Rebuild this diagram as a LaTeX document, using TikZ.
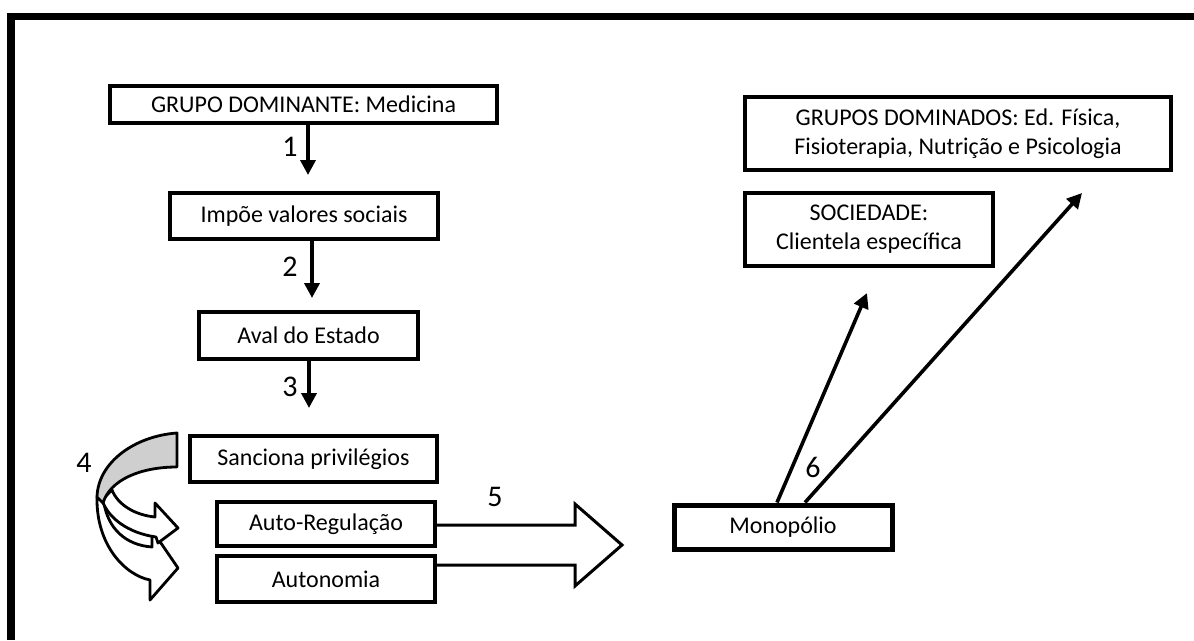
\documentclass[tikz,border=0pt]{standalone}
\usepackage{fontspec}
\setmainfont{Carlito}
\usetikzlibrary{arrows.meta}
\begin{document}
\begin{tikzpicture}[x=1pt,y=-1pt,
  box/.style={draw, line width=4.2pt, inner sep=0pt, align=center,
    font=\fontsize{24}{29}\selectfont},
  num/.style={font=\fontsize{30}{32}\selectfont, inner sep=0pt},
  arr/.style={line width=3.6pt, -{Triangle[length=15pt,width=15pt]}},
  bigarrow/.style={line width=3pt, line join=miter},
  curvarr/.style={line width=2.8pt, line join=round, fill=white},
]
\useasboundingbox (0,0) rectangle (1194,640);
% outer frame (cut at right and bottom)
\draw[line width=7.5pt] (11,640) -- (11,16.5) -- (1194,16.5);

% boxes
\node[box, minimum width=387pt, minimum height=37pt] (dom) at (303.5,104.5) {GRUPO DOMINANTE: Medicina};
\node[box, minimum width=268pt, minimum height=46pt] (imp) at (304,216) {Impõe valores sociais};
\node[box, minimum width=219pt, minimum height=47pt] (aval) at (308.5,335.5) {Aval do Estado};
\node[box, minimum width=247pt, minimum height=46pt] (sanc) at (313.5,459) {Sanciona privilégios};
\node[box, minimum width=218pt, minimum height=44pt] (auto) at (326,524) {Auto-Regulação};
\node[box, minimum width=218pt, minimum height=46pt] (auton) at (326,579) {Autonomia};
\node[box, minimum width=218pt, minimum height=44pt, line width=5pt] (mono) at (783,527) {Monopólio};
\node[box, minimum width=248pt, minimum height=73pt] (soc) at (869,229.5) {SOCIEDADE:\\Clientela específica};
\node[box, minimum width=426pt, minimum height=73pt] (domd) at (958,133.5) {GRUPOS DOMINADOS: Ed. Física,\\Fisioterapia, Nutrição e Psicologia};

% free arrow ends
\coordinate (t1) at (308,175);
\coordinate (t2) at (312,298);
\coordinate (t3) at (309,408);
\coordinate (t6a) at (867,293);
\coordinate (t6b) at (1082,193);

\draw[arr] (dom.south -| t1) -- (t1);
\draw[arr] (imp.south -| t2) -- (t2);
\draw[arr] (aval.south -| t3) -- (t3);
\draw[arr] (mono.north -| 777,0) -- (t6a);
\draw[arr] (mono.north -| 805,0) -- (t6b);

% big arrow 5
\draw[bigarrow] (auto.east |- 0,525) -- (575,525) -- (575,504) -- (622,545) -- (575,586) -- (575,565) -- (auton.east |- 0,565);

% curved arrow 4
\draw[curvarr] (97,497) .. controls (96,545) and (125,575) .. (150,580) -- (150,600) -- (178,568) -- (152,530) -- (152,547) .. controls (125,545) and (108,528) .. (104,503) -- cycle;
\draw[curvarr] (112,490) .. controls (118,505) and (135,515) .. (155,517) -- (155,503) -- (178,528) -- (158,543) -- (156,537) .. controls (128,533) and (108,518) .. (102,500) -- cycle;
\draw[curvarr, fill=gray!38] (177,433) .. controls (135,436) and (98,462) .. (97,497) -- (103,503) .. controls (110,480) and (140,467) .. (177,467) -- cycle;

% labels
\node[num] (n1) at (290,147) {1};
\node[num] (n2) at (290,267) {2};
\node[num] (n3) at (290,387) {3};
\node[num] (n4) at (84,463) {4};
\node[num] (n5) at (495,497) {5};
\node[num] (n6) at (813,467) {6};
\end{tikzpicture}
\end{document}
